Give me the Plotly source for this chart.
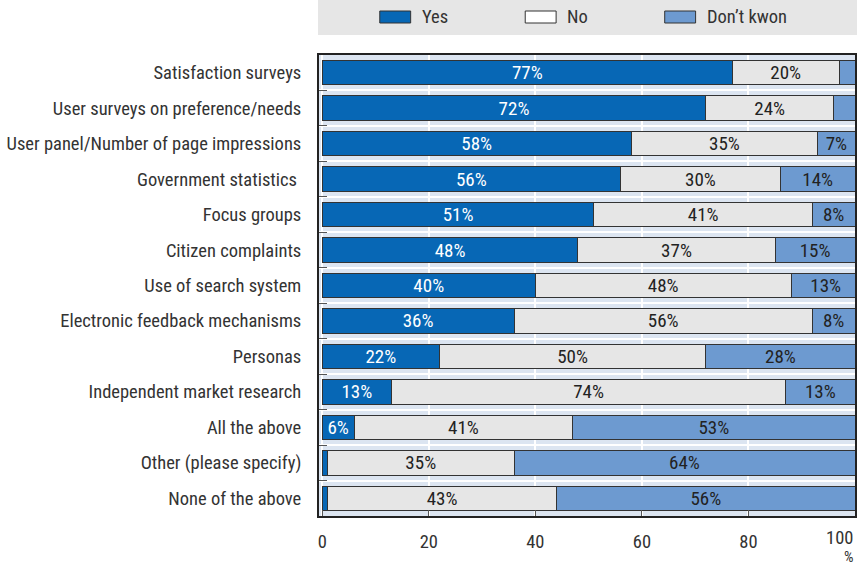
import plotly.graph_objects as go

# survey data, top to bottom as shown
categories = [
    "Satisfaction surveys",
    "User surveys on preference/needs",
    "User panel/Number of page impressions",
    "Government statistics ",
    "Focus groups",
    "Citizen complaints",
    "Use of search system",
    "Electronic feedback mechanisms",
    "Personas",
    "Independent market research",
    "All the above",
    "Other (please specify)",
    "None of the above",
]
yes = [77, 72, 58, 56, 51, 48, 40, 36, 22, 13, 6, 1, 1]
no = [20, 24, 35, 30, 41, 37, 48, 56, 50, 74, 41, 35, 43]
dont_know = [3, 4, 7, 14, 8, 15, 13, 8, 28, 13, 53, 64, 56]
x_ticks = [0, 20, 40, 60, 80]

series_names = ["Yes", "No", "Don\u2019t kwon"]
colors = ["#0767b5", "#e6e6e6", "#6d9ad0"]
text_colors = ["white", "#222222", "#222222"]

FONT = "Liberation Sans Narrow, Roboto Condensed, Arial Narrow, sans-serif"
FS = 18.5


def labels(vals):
    # small segments carry no label in the original
    return [f"{v}%" if v >= 5 else "" for v in vals]


fig = go.Figure()
for name, vals, col, tcol in zip(series_names, [yes, no, dont_know], colors, text_colors):
    fig.add_trace(go.Bar(
        y=categories, x=vals, name=name, orientation="h",
        marker=dict(color=col, line=dict(color="#333333", width=1)),
        text=labels(vals), textposition="inside", insidetextanchor="middle",
        textangle=0, constraintext="none",
        textfont=dict(family=FONT, size=FS + 0.5, color=tcol),
        hoverinfo="x+y", showlegend=False,
    ))

fig.update_layout(
    width=857, height=568,
    barmode="stack", bargap=0.31,
    margin=dict(l=319, r=0, t=55, b=52),
    paper_bgcolor="white", plot_bgcolor="#dce5f1",
    font=dict(family=FONT, size=FS, color="#333333"),
)
fig.update_xaxes(
    range=[-0.6, 100], tickvals=x_ticks,
    showgrid=True, gridcolor="white", gridwidth=1.5, zeroline=False,
    ticks="inside", ticklen=6, tickcolor="#555555",
    showline=True, linecolor="#222222", linewidth=2, mirror=True,
    tickfont=dict(size=FS, color="#333333"), ticklabelstandoff=8,
)
fig.update_yaxes(
    autorange="reversed", tickson="boundaries",
    showgrid=True, gridcolor="white", gridwidth=1.5,
    ticks="inside", ticklen=8, tickcolor="#555555",
    showline=True, linecolor="#222222", linewidth=2, mirror=True,
    tickfont=dict(size=FS, color="#333333"), ticklabelstandoff=12,
)

# legend strip drawn by hand, matching the wide swatches
plot_h = 568 - 55 - 52
plot_w = 857 - 319


def px_x(p):
    return (p - 319) / plot_w


def px_y(p):
    return (568 - 52 - p) / plot_h


fig.add_shape(type="rect", xref="paper", yref="paper",
              x0=px_x(318), x1=px_x(860), y0=px_y(35), y1=px_y(0),
              fillcolor="#e6e6e6", line=dict(width=0), layer="below")
swatch_left = [380, 526, 666]
for name, col, sx in zip(series_names, colors, swatch_left):
    fig.add_shape(type="rect", xref="paper", yref="paper",
                  x0=px_x(sx), x1=px_x(sx + 31), y0=px_y(23), y1=px_y(11),
                  fillcolor=col if col != "#e6e6e6" else "white",
                  line=dict(color="#333333", width=1))
    fig.add_annotation(xref="paper", yref="paper", x=px_x(sx + 40), y=px_y(17),
                       text=name, showarrow=False, xanchor="left", yanchor="middle",
                       font=dict(size=FS, color="#333333"))

# the last tick label sits at the very edge of the page
fig.add_annotation(xref="paper", yref="paper", x=1, y=px_y(538),
                   text="100", showarrow=False, xanchor="right", yanchor="middle",
                   font=dict(size=FS, color="#333333"))
fig.add_annotation(xref="paper", yref="paper", x=px_x(851), y=px_y(568),
                   text="%", showarrow=False, xanchor="center", yanchor="bottom",
                   font=dict(size=15, color="#333333"))

fig.write_html("out.html", config={"displayModeBar": False},
               post_script="document.body.style.margin='0';")
